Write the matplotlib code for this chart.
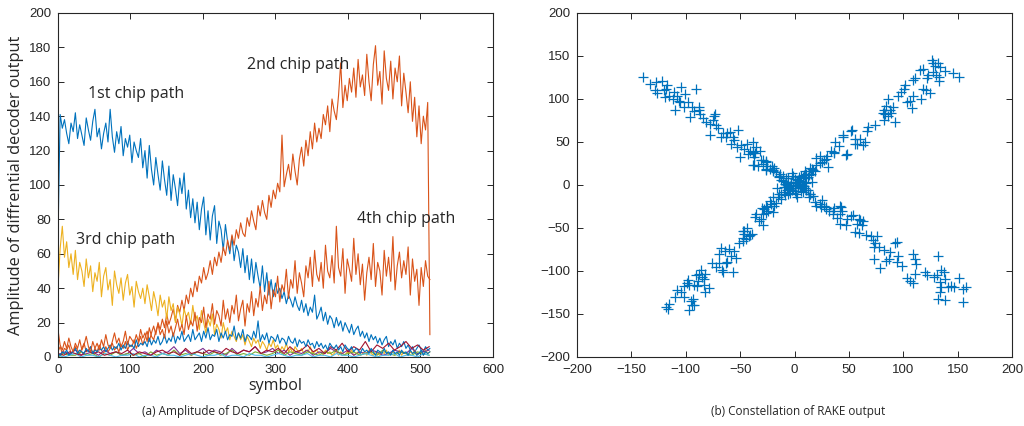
import numpy as np
import matplotlib.pyplot as plt

plt.rcParams['font.family'] = 'Liberation Sans'

# decoder output amplitude per path, sampled every 3rd symbol
path1 = [67, 141, 133, 138, 130, 124, 136, 131, 142, 127, 135, 129, 123, 139, 132, 126, 137, 144, 128, 133,
         121, 130, 136, 125, 144, 128, 119, 131, 124, 134, 117, 127, 122, 129, 113, 125, 120, 116, 127, 110,
         120, 104, 123, 109, 100, 116, 106, 97, 114, 103, 94, 111, 91, 106, 98, 88, 104, 95, 107, 86,
         97, 81, 92, 78, 90, 74, 86, 93, 71, 85, 68, 82, 88, 66, 79, 74, 62, 77, 67, 60,
         70, 56, 65, 61, 52, 63, 49, 59, 45, 57, 43, 55, 47, 40, 53, 38, 49, 36, 45, 35,
         43, 37, 40, 34, 38, 31, 36, 33, 29, 35, 30, 27, 33, 26, 31, 24, 29, 26, 36, 22,
         25, 29, 21, 26, 19, 24, 22, 17, 23, 18, 21, 15, 20, 17, 14, 19, 13, 16, 18, 12,
         15, 11, 14, 9, 13, 10, 12, 8, 11, 7, 10, 12, 6, 9, 7, 10, 5, 8, 6, 9,
         5, 7, 4, 6, 3, 5, 7, 4, 3, 6, 4, 5]
path2 = [3, 6, 2, 5, 4, 7, 2, 3, 6, 4, 2, 5, 8, 3, 4, 6, 2, 5, 3, 7,
         4, 2, 6, 3, 5, 8, 4, 6, 3, 7, 5, 9, 4, 7, 6, 10, 5, 8, 12, 7,
         11, 15, 9, 14, 18, 13, 20, 16, 22, 17, 25, 19, 23, 28, 21, 30, 26, 33, 27, 36,
         31, 40, 35, 44, 38, 47, 43, 52, 45, 49, 56, 48, 58, 53, 61, 55, 64, 59, 68, 62,
         71, 65, 74, 69, 78, 72, 70, 81, 76, 85, 79, 74, 88, 82, 91, 84, 80, 94, 87, 97,
         92, 101, 96, 129, 99, 106, 112, 103, 118, 108, 100, 115, 122, 111, 126, 117, 131, 121, 136, 125,
         133, 127, 141, 135, 146, 131, 150, 143, 138, 152, 171, 145, 158, 149, 162, 154, 168, 151, 173, 157,
         164, 152, 176, 160, 149, 170, 181, 158, 166, 147, 178, 162, 155, 172, 150, 168, 160, 175, 146, 165,
         154, 142, 160, 137, 151, 128, 146, 124, 140, 132, 148, 13]
path3 = [40, 63, 76, 58, 67, 52, 60, 48, 62, 45, 55, 50, 41, 57, 46, 53, 38, 49, 44, 55,
         35, 47, 52, 39, 45, 30, 50, 42, 37, 46, 33, 43, 48, 36, 41, 29, 44, 38, 34, 40,
         31, 42, 35, 27, 38, 32, 24, 36, 29, 33, 22, 35, 27, 31, 20, 29, 25, 18, 28, 23,
         26, 19, 30, 21, 24, 16, 27, 20, 14, 22, 18, 25, 13, 19, 16, 11, 20, 14, 17, 10,
         15, 12, 9, 14, 10, 13, 7, 12, 9, 6, 11, 8, 10, 5, 9, 7, 4, 8, 6, 10,
         5, 7, 3, 6, 4, 8, 3, 5, 2, 6, 4, 3, 5, 2, 4, 3, 6, 2, 3, 4,
         2, 3, 1, 4, 2, 3, 1, 2, 4, 1, 3, 2, 1, 3, 2, 4, 1, 2, 3, 1,
         2, 3, 1, 4, 2, 1, 3, 2, 1, 3, 2, 4, 1, 2, 3, 1, 2, 4, 1, 3,
         2, 1, 3, 2, 4, 1, 2, 3, 1, 4, 2, 3]
path4 = [16, 7, 4, 9, 5, 11, 6, 3, 8, 5, 10, 4, 7, 12, 6, 3, 9, 5, 8, 4,
         10, 6, 13, 7, 5, 9, 14, 8, 11, 6, 9, 15, 7, 12, 10, 8, 13, 9, 16, 11,
         14, 9, 17, 12, 10, 15, 19, 13, 16, 11, 21, 14, 18, 12, 17, 22, 15, 19, 13, 24,
         16, 21, 18, 26, 15, 23, 20, 29, 17, 25, 22, 31, 19, 27, 24, 18, 33, 22, 28, 20,
         30, 25, 36, 21, 28, 33, 18, 31, 26, 38, 24, 34, 29, 41, 27, 36, 31, 44, 28, 39,
         35, 47, 32, 42, 38, 51, 34, 45, 40, 56, 37, 49, 43, 35, 53, 46, 58, 41, 62, 48,
         44, 55, 40, 65, 50, 46, 59, 43, 76, 52, 47, 63, 37, 57, 51, 44, 69, 48, 60, 42,
         54, 33, 49, 58, 45, 66, 41, 55, 50, 36, 62, 47, 58, 44, 70, 39, 53, 61, 46, 56,
         48, 64, 36, 57, 44, 51, 30, 52, 41, 56, 47, 45]
path5 = [2, 1, 3, 2, 4, 1, 2, 3, 5, 2, 4, 3, 2, 5, 3, 6, 2, 4, 3, 5,
         4, 6, 3, 5, 7, 4, 6, 5, 8, 4, 7, 5, 9, 6, 7, 5, 10, 6, 8, 7,
         9, 6, 11, 7, 10, 8, 12, 7, 9, 13, 8, 11, 9, 14, 8, 12, 10, 15, 9, 11,
         13, 9, 16, 10, 12, 14, 9, 15, 11, 17, 10, 13, 12, 16, 9, 14, 11, 15, 10, 13,
         12, 18, 10, 14, 11, 16, 9, 13, 12, 10, 15, 11, 21, 9, 13, 10, 14, 8, 12, 11,
         9, 13, 8, 11, 10, 7, 12, 9, 8, 11, 6, 10, 8, 9, 6, 10, 7, 8, 5, 9,
         6, 8, 5, 7, 4, 8, 6, 5, 7, 4, 6, 3, 7, 5, 4, 6, 3, 5, 4, 2,
         5, 3, 4, 2, 5, 3, 1, 4, 3, 2, 5, 2, 3, 1, 4, 2, 3, 1, 4, 2,
         3, 1, 4, 2, 3, 1, 2, 4, 1, 3, 2, 3]

# residual paths, sampled every 8th symbol
resid_a = [1, 3, 2, 4, 1, 2, 3, 1, 4, 2, 3, 1, 2, 5, 2, 3,
           1, 4, 2, 3, 6, 2, 4, 1, 3, 5, 2, 4, 3, 1, 5, 2,
           4, 3, 6, 2, 3, 5, 2, 4, 1, 3, 2, 4, 1, 3, 2, 5,
           3, 2, 4, 1, 3, 2, 4, 3, 1, 2, 4, 3, 2, 5, 2, 3, 4]
resid_b = [0, 2, 1, 1, 3, 1, 2, 0, 2, 1, 3, 1, 2, 1, 2, 0,
           3, 1, 2, 1, 4, 1, 2, 1, 3, 2, 1, 3, 1, 2, 4, 1,
           2, 1, 3, 2, 1, 2, 4, 1, 3, 2, 1, 3, 2, 1, 3, 2,
           4, 1, 2, 3, 1, 2, 3, 1, 4, 2, 1, 3, 2, 1, 3, 2, 1]
resid_c = [1, 0, 1, 2, 0, 1, 1, 0, 2, 1, 0, 1, 1, 2, 0, 1,
           1, 0, 2, 1, 1, 0, 1, 2, 1, 0, 1, 1, 2, 0, 1, 1,
           0, 2, 1, 1, 0, 1, 2, 1, 0, 1, 1, 2, 0, 1, 1, 0,
           2, 1, 1, 0, 1, 2, 1, 0, 1, 1, 2, 0, 1, 1, 0, 2, 1]
resid_d = [2, 1, 3, 2, 1, 4, 2, 3, 1, 2, 3, 2, 4, 1, 3, 2,
           1, 3, 4, 2, 3, 1, 5, 2, 3, 2, 4, 3, 2, 5, 3, 2,
           4, 3, 6, 2, 4, 3, 5, 2, 6, 3, 4, 7, 3, 5, 2, 6,
           4, 8, 3, 6, 4, 9, 3, 7, 5, 8, 4, 6, 9, 5, 7, 4, 6]

# RAKE combiner output (in-phase, quadrature)
rake = [
    # upper-left arm
    (-139, 126), (-127, 120), (-128, 110), (-126, 107), (-117, 116), (-118, 112), (-119, 102),
    (-111, 108), (-110, 87), (-106, 98), (-104, 114), (-105, 96), (-102, 91), (-101, 106),
    (-91, 112), (-96, 79), (-94, 91), (-88, 91), (-88, 87), (-87, 83), (-81, 73), (-78, 71),
    (-75, 76), (-74, 80), (-73, 82), (-72, 70), (-78, 58), (-68, 56), (-66, 61), (-63, 56),
    (-59, 62), (-57, 56), (-56, 52), (-58, 48), (-52, 64), (-50, 32), (-53, 44), (-49, 46),
    (-44, 48), (-41, 40), (-38, 50), (-38, 37), (-37, 33), (-36, 37), (-35, 44), (-38, 23),
    (-34, 22), (-31, 29), (-26, 27), (-25, 22), (-26, 18), (-21, 22), (-20, 16), (-19, 20),
    (-38, 38), (-37, 23), (-29, 29), (-26, 19), (-20, 17), (-17, 15), (-11, 11), (-14, 9),
    (-32, 40), (-26, 28), (-133, 118), (-122, 121), (-115, 104), (-108, 103), (-98, 97),
    (-92, 86), (-84, 78), (-70, 66), (-62, 60), (-46, 42), (-43, 36), (-29, 24), (-23, 19),
    (-120, 110), (-112, 100),
    # upper-right arm
    (126, 145), (127, 142), (132, 142), (134, 137), (115, 134), (118, 135), (123, 128),
    (127, 131), (130, 128), (133, 126), (146, 130), (151, 126), (122, 124), (109, 122),
    (111, 124), (102, 116), (101, 112), (98, 108), (118, 112), (121, 110), (125, 107),
    (133, 121), (86, 100), (109, 104), (116, 100), (106, 98), (103, 96), (108, 90), (91, 91),
    (82, 87), (83, 82), (86, 80), (89, 84), (88, 87), (81, 84), (82, 75), (92, 73), (68, 67),
    (53, 64), (45, 56), (56, 54), (60, 54), (65, 50), (56, 48), (37, 50), (34, 40), (36, 37),
    (47, 35), (29, 30), (23, 34), (25, 27), (31, 21), (20, 23), (19, 16), (16, 19), (13, 12),
    (10, 16), (11, 13), (17, 18), (23, 25), (27, 29), (20, 31), (36, 38), (45, 58), (52, 63),
    (48, 36), (57, 48), (63, 46), (67, 63), (138, 133), (129, 138), (95, 103), (84, 92),
    (74, 70), (41, 45), (30, 34), (14, 20), (8, 9),
    # lower-right arm
    (19, -20), (24, -26), (29, -28), (35, -30), (42, -24), (44, -30), (52, -36), (59, -40),
    (20, -24), (29, -26), (32, -30), (35, -34), (43, -26), (42, -45), (47, -47), (48, -40),
    (56, -55), (59, -56), (60, -41), (62, -47), (70, -59), (72, -64), (73, -72), (76, -59),
    (74, -68), (73, -86), (78, -72), (82, -76), (84, -88), (79, -96), (87, -86), (92, -68),
    (94, -66), (95, -82), (94, -90), (99, -94), (103, -108), (106, -112), (109, -114),
    (109, -80), (111, -86), (112, -92), (111, -103), (120, -101), (122, -105), (128, -107),
    (132, -82), (131, -105), (135, -99), (137, -101), (138, -109), (134, -113), (135, -119),
    (134, -124), (132, -132), (138, -134), (141, -119), (144, -117), (147, -119), (151, -108),
    (155, -121), (158, -119), (155, -136), (11, -6), (17, -13), (23, -22), (27, -25),
    (36, -27), (42, -34), (54, -35), (57, -45), (63, -42), (14, -10), (25, -18), (39, -38),
    (66, -58), (88, -78),
    # lower-left arm
    (-118, -142), (-116, -144), (-115, -138), (-110, -130), (-104, -124), (-102, -130),
    (-102, -118), (-99, -114), (-98, -110), (-97, -116), (-97, -145), (-95, -135), (-93, -132),
    (-94, -139), (-92, -139), (-92, -116), (-91, -105), (-90, -118), (-89, -112), (-88, -103),
    (-86, -99), (-83, -109), (-83, -116), (-82, -124), (-79, -120), (-82, -103), (-76, -91),
    (-69, -91), (-67, -99), (-66, -101), (-64, -77), (-63, -91), (-62, -89), (-57, -101),
    (-56, -77), (-54, -85), (-47, -53), (-47, -65), (-46, -57), (-45, -63), (-42, -59),
    (-39, -57), (-36, -37), (-31, -39), (-29, -47), (-28, -28), (-26, -33), (-25, -26),
    (-22, -22), (-20, -31), (-19, -24), (-7, -6), (-14, -10), (-20, -14), (-23, -19),
    (-26, -24), (-30, -27), (-29, -34), (-35, -34), (-46, -53), (-47, -62), (-41, -58),
    (-68, -73), (-60, -74), (-69, -80), (-12, -16), (-17, -21), (-24, -30), (-33, -42),
    (-44, -50), (-51, -68), (-58, -82), (-72, -95), (-85, -107), (-108, -122),
    # centre
    (0, 0), (2, 3), (-3, 2), (5, -2), (-5, -4), (3, 6), (-2, -6), (8, 4), (-8, 3), (6, -7),
    (-6, 8), (10, -3), (-10, -2), (1, -10), (-1, 10), (12, 9), (-12, -10), (9, 12), (-9, -12),
    (14, -10), (-14, 11), (4, 1), (-4, -1), (7, 0), (-7, 0), (0, 7), (0, -7), (3, -4), (-3, 4),
    (11, 2), (-11, 5), (6, 11), (-6, -11), (15, 13), (-15, -14), (13, -14), (-13, 13), (5, 5),
    (-5, -5), (8, -8), (-8, 8), (1, 2), (-1, -3), (9, -1), (-9, 1), (4, 9), (-4, -9), (12, -6),
    (-12, 6), (16, 3), (-16, -4), (2, -14), (-2, 14), (10, 8), (-10, -8),
]
rake_i = [p[0] for p in rake]
rake_q = [p[1] for p in rake]

c_blue = '#0072BD'
c_orange = '#D95319'
c_yellow = '#EDB120'
c_purple = '#7E2F8E'
c_green = '#77AC30'
c_cyan = '#4DBEEE'
c_red = '#A2142F'
ink = '#262626'
txt_font = 'Open Sans'

fig = plt.figure(figsize=(10.24, 4.26), dpi=100)
ax1 = fig.add_axes([0.0566, 0.162, 0.4248, 0.8075])
ax2 = fig.add_axes([0.5635, 0.162, 0.4248, 0.8075])

sym3 = np.arange(len(path1)) * 3
sym8 = np.arange(len(resid_a)) * 8
lw = 0.8
ax1.plot(sym3, path1, color=c_blue, lw=lw)
ax1.plot(sym3, path2, color=c_orange, lw=lw)
ax1.plot(sym3, path3, color=c_yellow, lw=lw)
ax1.plot(sym8, resid_a, color=c_purple, lw=lw)
ax1.plot(sym8, resid_b, color=c_green, lw=lw)
ax1.plot(sym8, resid_c, color=c_cyan, lw=lw)
ax1.plot(sym8, resid_d, color=c_red, lw=lw)
ax1.plot(sym3, path5, color=c_blue, lw=lw)
ax1.plot(sym3, path4, color=c_orange, lw=lw)

ax1.set_xlim(0, 600)
ax1.set_ylim(0, 200)
ax1.set_xticks(range(0, 601, 100))
ax1.set_yticks(range(0, 201, 20))

fs = 11.5
ax1.text(41, 153, '1st chip path', fontsize=fs, family=txt_font, color=ink, va='center')
ax1.text(261, 170, '2nd chip path', fontsize=fs, family=txt_font, color=ink, va='center')
ax1.text(25, 68, '3rd chip path', fontsize=fs, family=txt_font, color=ink, va='center')
ax1.text(412, 80, '4th chip path', fontsize=fs, family=txt_font, color=ink, va='center')

ax1.set_xlabel('symbol', fontsize=fs, family=txt_font, color=ink)
ax1.xaxis.set_label_coords(0.5, -0.062)
ax1.set_ylabel('Amplitude of diffrential decoder output', fontsize=11.8, family=txt_font, color=ink)
ax1.yaxis.set_label_coords(-0.077, 0.5)

ax2.plot(rake_i, rake_q, '+', color=c_blue, markersize=6.5, markeredgewidth=0.9)
ax2.set_xlim(-200, 200)
ax2.set_ylim(-200, 200)
ax2.set_xticks(range(-200, 201, 50))
ax2.set_yticks(range(-200, 201, 50))

for ax in (ax1, ax2):
    ax.tick_params(direction='in', top=True, right=True, length=4, width=0.7,
                   color=ink, labelcolor=ink, labelsize=9.5, pad=5)
    for sp in ax.spines.values():
        sp.set_color(ink)
        sp.set_linewidth(0.8)

fig.text(250 / 1024, 1 - 411 / 426, '(a) Amplitude of DQPSK decoder output',
         fontsize=8.5, family=txt_font, color=ink, ha='center', va='center')
fig.text(798 / 1024, 1 - 411 / 426, '(b) Constellation of RAKE output',
         fontsize=8.5, family=txt_font, color=ink, ha='center', va='center')

fig.savefig('out.png', dpi=100)
